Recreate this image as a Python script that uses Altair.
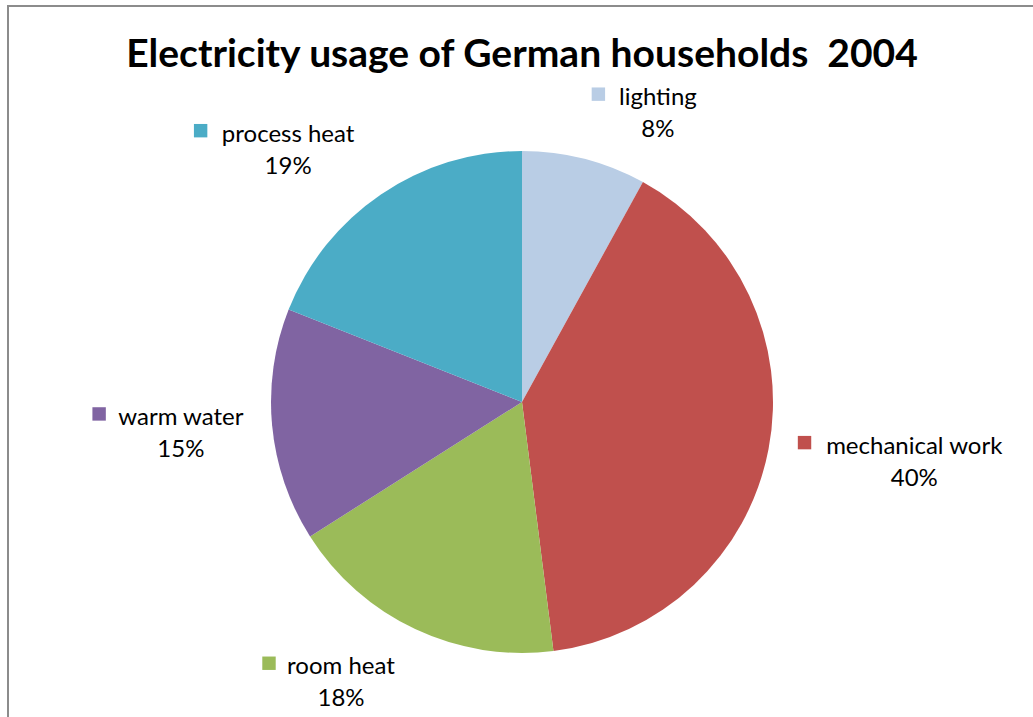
import altair as alt
import pandas as pd

# ---- data ----
categories = ["lighting", "mechanical work", "room heat", "warm water", "process heat"]
shares = [8, 40, 18, 15, 19]
colors = ["#B9CDE5", "#C0504D", "#9BBB59", "#8064A2", "#4BACC6"]
title_text = "Electricity usage of German households\u00a0 2004"

df = pd.DataFrame({
    "category": categories,
    "value": shares,
    "order": list(range(len(categories))),
})

# ---- layout constants (pixels) ----
W, H = 1033, 717
CX, CY, R = 522, 402, 251      # pie centre and radius
RL = 281                        # radius at which label boxes touch
SQ = 28                         # square + gap before the name
BOXH = 53
FONT = "Lato"
FS = 24
# estimated glyph widths for the label font (normal / narrow / wide)
CW_N, CW_S, CW_W = 12.5, 6.5, 19.0

color_scale = alt.Scale(domain=categories, range=colors)

base = alt.Chart(df)

pie = base.mark_arc(outerRadius=R, stroke=None).encode(
    theta=alt.Theta("value:Q", stack=True),
    order=alt.Order("order:Q"),
    color=alt.Color("category:N", scale=color_scale, legend=None),
    x=alt.value(CX),
    y=alt.value(CY),
)

lab = base.transform_joinaggregate(
    total="sum(value)"
).transform_window(
    cum="sum(value)", sort=[alt.SortField("order")]
).transform_calculate(
    mid="(datum.cum - datum.value/2) / datum.total * 2 * PI",
    n_s="length(replace(datum.category, regexp('[^iltfjr ]', 'g'), ''))",
    n_w="length(replace(datum.category, regexp('[^mw]', 'g'), ''))",
).transform_calculate(
    s="sin(datum.mid)", c="cos(datum.mid)",
    wn=f"(length(datum.category) - datum.n_s - datum.n_w) * {CW_N}"
       f" + datum.n_s * {CW_S} + datum.n_w * {CW_W}",
).transform_calculate(
    ax=f"{CX} + {RL}*datum.s - (datum.s < 0 ? 12*abs(datum.c) : 0)",
    bcy=f"{CY} - {RL}*datum.c - datum.c * {BOXH} / 2 + (datum.c > 0.9 ? 7 : 0)",
).transform_calculate(
    tx=f"datum.s > 0 ? datum.ax + {SQ} + datum.wn/2 : datum.ax - datum.wn/2",
).transform_calculate(
    sqx="datum.tx - datum.wn/2 - 21.5",
    ny="datum.bcy - 6",
    py="datum.bcy + 26",
    sqy="datum.bcy - 17",
    pct="datum.value + '%'",
)

names = lab.mark_text(font=FONT, fontSize=FS, color="#000000", align="center",
                      baseline="alphabetic").encode(
    x=alt.X("tx:Q", scale=None, axis=None),
    y=alt.Y("ny:Q", scale=None, axis=None),
    text="category:N",
)
pcts = lab.mark_text(font=FONT, fontSize=FS, color="#000000", align="center",
                     baseline="alphabetic").encode(
    x=alt.X("tx:Q", scale=None, axis=None),
    y=alt.Y("py:Q", scale=None, axis=None),
    text="pct:N",
)
squares = lab.mark_square(size=180, filled=True, opacity=1).encode(
    x=alt.X("sqx:Q", scale=None, axis=None),
    y=alt.Y("sqy:Q", scale=None, axis=None),
    color=alt.Color("category:N", scale=color_scale, legend=None),
)

title = alt.Chart(pd.DataFrame({"t": [title_text]})).mark_text(
    font=FONT, fontSize=39, fontWeight="bold", color="#000000",
    align="center", baseline="alphabetic",
).encode(text="t:N", x=alt.value(522), y=alt.value(67))

border = alt.Chart(pd.DataFrame({"a": [0]})).mark_rect(
    fillOpacity=0, stroke="#8c8c8c", strokeWidth=2,
).encode(x=alt.value(8), y=alt.value(6), x2=alt.value(1200), y2=alt.value(900))

chart = alt.layer(border, pie, squares, names, pcts, title).properties(
    width=W, height=H,
    autosize=alt.AutoSizeParams(type="none"),
    padding=0,
).configure_view(stroke=None)

chart.save("out.html", embed_options={"renderer": "svg", "actions": False})
